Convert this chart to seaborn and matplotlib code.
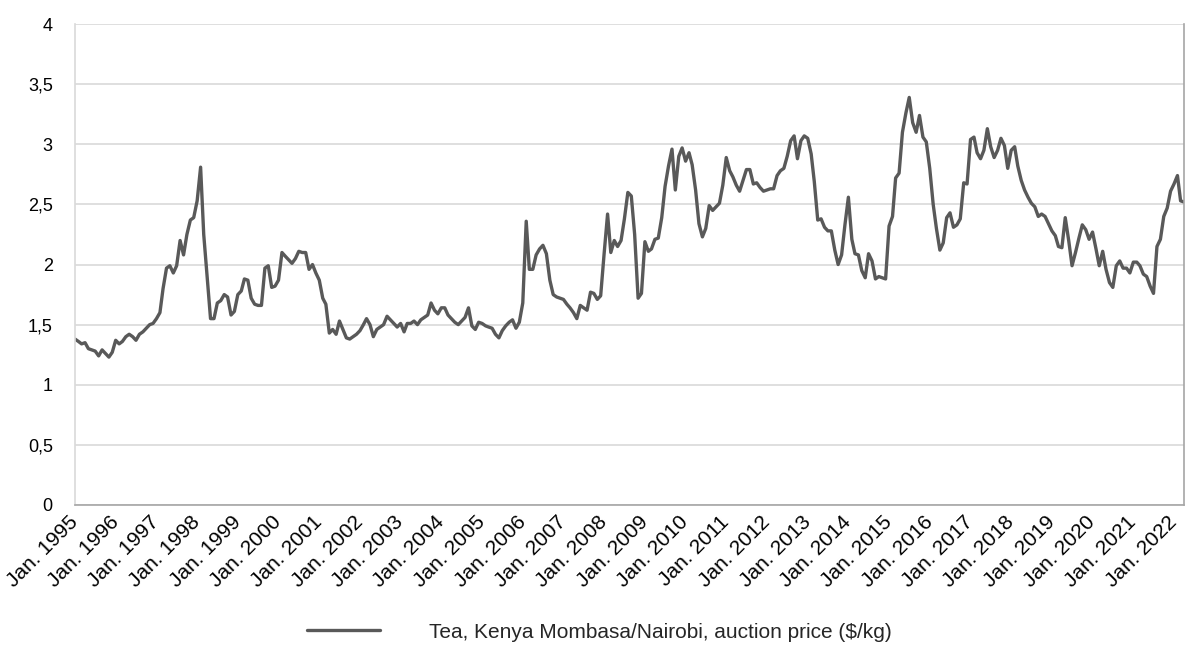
import matplotlib.pyplot as plt
import pandas as pd
import seaborn as sns

# monthly Tea (Kenya Mombasa/Nairobi) auction price, $/kg, Jan 1995 - Apr 2022
price = [
    1.38, 1.36, 1.34, 1.35, 1.30, 1.29, 1.28, 1.24, 1.29, 1.26, 1.23, 1.27,  # 1995
    1.37, 1.34, 1.36, 1.40, 1.42, 1.40, 1.37, 1.42, 1.44, 1.47, 1.50, 1.51,  # 1996
    1.55, 1.60, 1.80, 1.97, 1.99, 1.93, 1.99, 2.20, 2.08, 2.25, 2.37, 2.39,  # 1997
    2.53, 2.81, 2.25, 1.90, 1.55, 1.55, 1.68, 1.70, 1.75, 1.73, 1.58, 1.61,  # 1998
    1.75, 1.78, 1.88, 1.87, 1.72, 1.67, 1.66, 1.66, 1.97, 1.99, 1.81, 1.82,  # 1999
    1.87, 2.10, 2.07, 2.04, 2.01, 2.05, 2.11, 2.10, 2.10, 1.96, 2.00, 1.93,  # 2000
    1.87, 1.72, 1.67, 1.43, 1.46, 1.42, 1.53, 1.46, 1.39, 1.38, 1.40, 1.42,  # 2001
    1.45, 1.50, 1.55, 1.50, 1.40, 1.46, 1.48, 1.50, 1.57, 1.54, 1.51, 1.48,  # 2002
    1.51, 1.44, 1.51, 1.51, 1.53, 1.50, 1.54, 1.56, 1.58, 1.68, 1.62, 1.59,  # 2003
    1.64, 1.64, 1.58, 1.55, 1.52, 1.50, 1.53, 1.56, 1.64, 1.49, 1.46, 1.52,  # 2004
    1.51, 1.49, 1.48, 1.47, 1.42, 1.39, 1.45, 1.49, 1.52, 1.54, 1.47, 1.52,  # 2005
    1.68, 2.36, 1.96, 1.96, 2.08, 2.13, 2.16, 2.09, 1.87, 1.75, 1.73, 1.72,  # 2006
    1.71, 1.67, 1.64, 1.60, 1.55, 1.66, 1.64, 1.62, 1.77, 1.76, 1.71, 1.74,  # 2007
    2.09, 2.42, 2.10, 2.20, 2.15, 2.20, 2.38, 2.60, 2.57, 2.25, 1.72, 1.76,  # 2008
    2.19, 2.11, 2.13, 2.21, 2.22, 2.39, 2.65, 2.82, 2.96, 2.62, 2.90, 2.97,  # 2009
    2.86, 2.93, 2.83, 2.62, 2.34, 2.23, 2.30, 2.49, 2.45, 2.48, 2.51, 2.66,  # 2010
    2.89, 2.78, 2.73, 2.66, 2.61, 2.70, 2.79, 2.79, 2.67, 2.68, 2.64, 2.61,  # 2011
    2.62, 2.63, 2.63, 2.74, 2.78, 2.80, 2.90, 3.03, 3.07, 2.88, 3.03, 3.07,  # 2012
    3.05, 2.92, 2.69, 2.37, 2.38, 2.31, 2.28, 2.28, 2.12, 2.00, 2.08, 2.33,  # 2013
    2.56, 2.21, 2.09, 2.08, 1.95, 1.89, 2.09, 2.03, 1.88, 1.90, 1.89, 1.88,  # 2014
    2.32, 2.40, 2.72, 2.76, 3.10, 3.26, 3.39, 3.18, 3.10, 3.24, 3.06, 3.02,  # 2015
    2.80, 2.50, 2.30, 2.12, 2.18, 2.39, 2.43, 2.31, 2.33, 2.38, 2.68, 2.67,  # 2016
    3.04, 3.06, 2.93, 2.88, 2.95, 3.13, 2.98, 2.89, 2.95, 3.05, 2.99, 2.80,  # 2017
    2.95, 2.98, 2.82, 2.70, 2.62, 2.56, 2.51, 2.48, 2.40, 2.42, 2.40, 2.34,  # 2018
    2.28, 2.24, 2.15, 2.14, 2.39, 2.20, 1.99, 2.10, 2.22, 2.33, 2.29, 2.21,  # 2019
    2.27, 2.13, 1.99, 2.11, 1.96, 1.85, 1.81, 1.99, 2.03, 1.97, 1.97, 1.93,  # 2020
    2.02, 2.02, 1.99, 1.92, 1.90, 1.82, 1.76, 2.15, 2.21, 2.40, 2.47, 2.61,  # 2021
    2.67, 2.74, 2.53, 2.52,  # 2022
]

series_label = "Tea, Kenya Mombasa/Nairobi, auction price ($/kg)"
y_ticks = [0, 0.5, 1, 1.5, 2, 2.5, 3, 3.5, 4]

dates = pd.date_range("1995-01-01", periods=len(price), freq="MS")
df = pd.DataFrame({"date": dates, "price": price})

sns.set_theme(style="white")
plt.rcParams["font.family"] = ["Liberation Sans", "DejaVu Sans"]

fig, ax = plt.subplots(figsize=(11.87, 6.51), dpi=100)
fig.subplots_adjust(left=0.0632, right=0.9975, top=0.963, bottom=0.2243)

sns.lineplot(data=df, x="date", y="price", ax=ax, color="#595959",
             linewidth=2.4, label=series_label)

ax.set_xlim(dates[0], dates[-1])
ax.set_ylim(0, 4)
ax.set_yticks(y_ticks)
ax.set_yticklabels([f"{v:g}".replace(".", ",") for v in y_ticks])

year_ticks = pd.date_range("1995-01-01", "2022-01-01", freq="YS")
ax.set_xticks(year_ticks)
ax.set_xticklabels([f"Jan. {d.year}" for d in year_ticks], rotation=45,
                   ha="right", va="center", rotation_mode="anchor")

ax.set_axisbelow(True)
ax.grid(axis="y", color="#d9d9d9", linewidth=1.2)
ax.set_xlabel("")
ax.set_ylabel("")
ax.tick_params(axis="both", length=0, labelcolor="black")
ax.tick_params(axis="y", pad=16, labelsize=13)
ax.tick_params(axis="x", pad=10, labelsize=15)

ax.spines["top"].set_visible(False)
ax.spines["left"].set_color("#d9d9d9")
ax.spines["bottom"].set_color("#a6a6a6")
ax.spines["right"].set_color("#a6a6a6")
for s in ["left", "bottom", "right"]:
    ax.spines[s].set_linewidth(1.2)

ax.legend(loc="center", bbox_to_anchor=(0.505, 0.029),
          bbox_transform=fig.transFigure, frameon=False, fontsize=15,
          handlelength=3.5, handletextpad=2.35)

plt.savefig("out.png", dpi=100)
